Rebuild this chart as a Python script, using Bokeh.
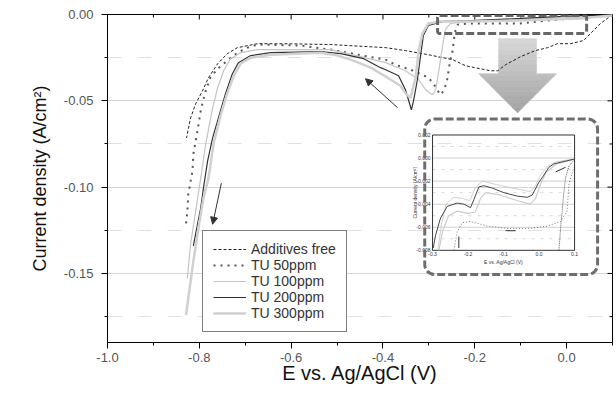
import math
from bokeh.plotting import figure
from bokeh.models import (Range1d, SingleIntervalTicker, NumeralTickFormatter,
                          Legend, LegendItem, Arrow, NormalHead, BoxAnnotation, Title)
from bokeh.embed import file_html
from bokeh.resources import INLINE
from bokeh.core.properties import value

# ---------------- main chart data (E in V, J in A/cm2) ----------------
af_E = [0.100, 0.074, 0.052, 0.037, 0.009, -0.020, -0.041, -0.068, -0.100, -0.133, -0.150, -0.166,
        -0.220, -0.248, -0.301, -0.351, -0.394, -0.514, -0.600, -0.673, -0.717, -0.739, -0.760,
        -0.780, -0.793, -0.808, -0.819, -0.828]
af_J = [0.000, -0.0052, -0.0110, -0.0151, -0.0169, -0.0169, -0.0192, -0.0209, -0.0244, -0.0291,
        -0.0326, -0.0326, -0.0297, -0.0262, -0.0233, -0.0209, -0.0192, -0.0174, -0.0170, -0.0169,
        -0.0192, -0.0227, -0.0285, -0.0366, -0.0442, -0.0517, -0.0599, -0.0715]

tu50_E = [0.100, 0.030, -0.040, -0.100, -0.166, -0.209, -0.237, -0.242, -0.246, -0.248,
          -0.253, -0.257, -0.259, -0.264, -0.270, -0.275, -0.290, -0.301, -0.333, -0.373,
          -0.394, -0.420, -0.470, -0.510, -0.580, -0.673, -0.695, -0.717, -0.739, -0.760,
          -0.776, -0.786, -0.793, -0.797, -0.804, -0.813, -0.815, -0.824, -0.826, -0.830]
tu50_J = [-0.0006, -0.0017, -0.0035, -0.0052, -0.0052, -0.0052, -0.0058, -0.0093, -0.0151, -0.0209,
          -0.0262, -0.0320, -0.0366, -0.0413, -0.0450, -0.0465, -0.0400, -0.0366, -0.0326, -0.0291,
          -0.0262, -0.0250, -0.0225, -0.0205, -0.0180, -0.0174, -0.0192, -0.0221, -0.0267, -0.0314,
          -0.0366, -0.0442, -0.0512, -0.0558, -0.0674, -0.0808, -0.0907, -0.1041, -0.1140, -0.1238]

tu100_E = [0.100, 0.030, -0.100, -0.209, -0.237, -0.253, -0.259, -0.264, -0.270, -0.279,
           -0.285, -0.292, -0.307, -0.322, -0.351, -0.394, -0.514, -0.673, -0.710, -0.732,
           -0.747, -0.760, -0.771, -0.786, -0.797, -0.808, -0.819, -0.826]
tu100_J = [0.000, -0.0017, -0.0029, -0.0040, -0.0047, -0.0052, -0.0070, -0.0087, -0.0180, -0.0337,
           -0.0436, -0.0465, -0.0436, -0.0378, -0.0326, -0.0279, -0.0203, -0.0203, -0.0221, -0.0256,
           -0.0326, -0.0424, -0.0541, -0.0750, -0.0948, -0.1140, -0.1331, -0.1529]

tu200_E = [0.100, 0.030, -0.100, -0.209, -0.268, -0.279, -0.301, -0.312, -0.318, -0.325,
           -0.333, -0.338, -0.351, -0.366, -0.394, -0.405, -0.442, -0.492, -0.536, -0.645,
           -0.688, -0.715, -0.728, -0.743, -0.754, -0.771, -0.782, -0.791, -0.797, -0.804, -0.813]
tu200_J = [-0.0002, -0.0006, -0.0023, -0.0035, -0.0040, -0.0047, -0.0064, -0.0122, -0.0238, -0.0378,
           -0.0494, -0.0552, -0.0436, -0.0355, -0.0320, -0.0308, -0.0256, -0.0227, -0.0215, -0.0221,
           -0.0238, -0.0279, -0.0343, -0.0459, -0.0558, -0.0715, -0.0849, -0.1006, -0.1122, -0.1215,
           -0.1340]

tu300_E = [0.100, 0.030, -0.100, -0.209, -0.275, -0.301, -0.314, -0.322, -0.329, -0.340,
           -0.350, -0.362, -0.390, -0.427, -0.464, -0.499, -0.536, -0.645, -0.688, -0.710,
           -0.725, -0.741, -0.754, -0.769, -0.780, -0.791, -0.802, -0.813, -0.829]
tu300_J = [-0.0006, -0.0023, -0.0035, -0.0040, -0.0040, -0.0052, -0.0110, -0.0209, -0.0366, -0.0483,
           -0.0460, -0.0413, -0.0366, -0.0308, -0.0267, -0.0238, -0.0221, -0.0233, -0.0250, -0.0285,
           -0.0355, -0.0471, -0.0587, -0.0750, -0.0948, -0.1064, -0.1238, -0.1430, -0.1740]

labels = ["Additives free", "TU 50ppm", "TU 100ppm", "TU 200ppm", "TU 300ppm"]

# scan-direction arrows (start E, start J, end E, end J)
arrow1 = (-0.368, -0.0540, -0.438, -0.0372)
arrow2 = (-0.752, -0.0977, -0.771, -0.1215)

# ---------------- inset data (zoom of the top right region) ----------------
in_dark_E = [-0.298, -0.2915, -0.2775, -0.2587, -0.2305, -0.2117, -0.193, -0.1836, -0.1695, -0.1554,
             -0.1319, -0.099, -0.0615, -0.0333, -0.0192, -0.0005, 0.0089, 0.0277, 0.0418, 0.098]
in_dark_J = [-0.0078, -0.0067, -0.0052, -0.0042, -0.0039, -0.0040, -0.0043, -0.0036, -0.0025, -0.0024,
             -0.0026, -0.0030, -0.0033, -0.0034, -0.0032, -0.0021, -0.0017, -0.0008, -0.0005, -0.0001]
in_100_E = [-0.285, -0.275, -0.262, -0.240, -0.215, -0.195, -0.180, -0.160, -0.120, -0.060,
            -0.025, -0.010, 0.005, 0.025, 0.050, 0.098]
in_100_J = [-0.0080, -0.0058, -0.0040, -0.0034, -0.0035, -0.0037, -0.0026, -0.0020, -0.0023, -0.0027,
            -0.0029, -0.0024, -0.0014, -0.0007, -0.0003, -0.0001]
in_300_E = [-0.282, -0.272, -0.255, -0.230, -0.200, -0.180, -0.165, -0.150, -0.110, -0.060,
            -0.025, -0.010, 0.005, 0.020, 0.050, 0.098]
in_300_J = [-0.0080, -0.0064, -0.0050, -0.0046, -0.0048, -0.0047, -0.0035, -0.0030, -0.0032, -0.0037,
            -0.0040, -0.0035, -0.0022, -0.0012, -0.0005, -0.0001]
in_50_E = [-0.240, -0.2305, -0.2164, -0.193, -0.146, -0.0897, -0.024, 0.023, 0.0606, 0.079, 0.084, 0.098]
in_50_J = [-0.0080, -0.0064, -0.0056, -0.0055, -0.0059, -0.0061, -0.0061, -0.0059, -0.0055, -0.0046,
           -0.0023, -0.0008]
in_af_E = [0.056, 0.0606, 0.065, 0.070, 0.0747, 0.084, 0.098]
in_af_J = [-0.0080, -0.0061, -0.0046, -0.0029, -0.0017, -0.0007, -0.0002]

in_yticks = [0.002, 0.000, -0.002, -0.004, -0.006, -0.008]
in_ylabels = ["0.002", "0.000", "-0.002", "-0.004", "-0.006", "-0.008"]
in_xticks = [-0.3, -0.2, -0.1, 0.0, 0.1]
in_xlabels = ["-0.3", "-0.2", "-0.1", "0.0", "0.1"]
in_arrows = [(-0.226, -0.0068, -0.226, -0.0078), (-0.066, -0.0063, -0.094, -0.0063),
             (0.0747, -0.0008, 0.0466, -0.0012)]

# ---------------- layout constants ----------------
X_MIN, X_MAX = -1.0, 0.1
Y_MIN, Y_MAX = -0.19, 0.0
FONT = "Liberation Sans"
Y_TITLE = "Current density (A/cm²)"
X_TITLE = "E vs. Ag/AgCl (V)"

INSET_X = (-0.3, 0.1)
INSET_Y = (-0.008, 0.002)
INSET_TARGET_X = (-0.292, 0.0174)
INSET_TARGET_Y = (-0.1366, -0.0698)
INSET_BOX = dict(left=-0.309, right=0.0675, top=-0.0605, bottom=-0.1506)
SMALL_BOX = dict(left=-0.281, right=0.0436, top=-0.0006, bottom=-0.0110)
SHAFT = (-0.1482, -0.0654, -0.01395)
HEAD = (-0.1917, -0.0218, -0.0343)
TIP = (-0.1068, -0.0570)
N_BANDS = 14

p = figure(frame_width=505, frame_height=328,
           x_range=Range1d(X_MIN, X_MAX), y_range=Range1d(Y_MIN, Y_MAX),
           output_backend="svg", toolbar_location=None,
           min_border_left=107, min_border_right=4, min_border_top=14, min_border_bottom=50,
           background_fill_color="white", border_fill_color="white")
p.outline_line_color = "black"
p.outline_line_width = 1

# axes
xt = SingleIntervalTicker(interval=0.2, num_minor_ticks=2)
yt = SingleIntervalTicker(interval=0.05, num_minor_ticks=2)
p.xaxis.ticker = xt
p.yaxis.ticker = yt
p.xaxis.formatter = NumeralTickFormatter(format="0.0")
p.yaxis.formatter = NumeralTickFormatter(format="0.00")
for ax in (p.xaxis[0], p.yaxis[0]):
    ax.axis_line_color = "black"
    ax.major_tick_line_color = "black"
    ax.minor_tick_line_color = "black"
    ax.major_tick_in = 0
    ax.minor_tick_in = 0
    ax.major_tick_out = 6
    ax.minor_tick_out = 3
    ax.major_label_text_font = FONT
    ax.major_label_text_font_size = "13px"
    ax.major_label_text_color = "#555555"
    ax.axis_label_text_font = FONT
    ax.axis_label_text_font_style = "normal"
    ax.axis_label_text_color = "#111111"
p.xaxis.axis_label = X_TITLE
p.xaxis.axis_label_text_font_size = "20px"
p.xaxis.major_label_standoff = 4
p.yaxis.major_label_standoff = 8
p.xaxis.axis_label_standoff = -3

# y title as a vertical title in the left panel
p.add_layout(Title(text=Y_TITLE, align="center", text_font=FONT, text_font_size="18px",
                   text_font_style="normal", text_color="#111111", standoff=22,
                   offset=-30), "left")

# mirror ticks (inward) on the top and right edges
top_major = [X_MIN + 0.2 * i for i in range(6)]
top_minor = [X_MIN + 0.1 + 0.2 * i for i in range(6)]
right_major = [Y_MAX - 0.05 * i for i in range(4)]
right_minor = [Y_MAX - 0.025 - 0.05 * i for i in range(4)]
p.ray(x=top_major, y=Y_MAX, length=5, length_units="screen", angle=-math.pi / 2,
      line_color="black", line_width=1)
p.ray(x=top_minor, y=Y_MAX, length=3, length_units="screen", angle=-math.pi / 2,
      line_color="black", line_width=1)
p.ray(x=X_MAX, y=right_major, length=5, length_units="screen", angle=math.pi,
      line_color="black", line_width=1)
p.ray(x=X_MAX, y=right_minor, length=3, length_units="screen", angle=math.pi,
      line_color="black", line_width=1)

# grid
p.xgrid.grid_line_color = None
p.ygrid.grid_line_color = "#d4d4d4"
p.ygrid.grid_line_width = 1.2
p.ygrid.minor_grid_line_color = "#e0e0e0"
p.ygrid.minor_grid_line_dash = "14 16"
p.ygrid.minor_grid_line_width = 1

# big gray block arrow with a vertical gradient (bands)
def shade(t):
    c = int(round(0xd6 + (0xa4 - 0xd6) * t))
    return "#%02x%02x%02x" % (c, c, c)

def half(j):
    if j >= HEAD[2]:
        return (SHAFT[1] - SHAFT[0]) / 2
    f = (j - TIP[1]) / (HEAD[2] - TIP[1])
    return (HEAD[1] - HEAD[0]) / 2 * f

total = SHAFT[2] - TIP[1]
bands_x, bands_y, bands_c = [], [], []
for i in range(N_BANDS):
    y0 = SHAFT[2] - total * i / N_BANDS
    y1 = SHAFT[2] - total * (i + 1) / N_BANDS
    ys = [y0]
    if y0 > HEAD[2] > y1:
        ys.append(HEAD[2] + 1e-9)
        ys.append(HEAD[2] - 1e-9)
    ys.append(y1)
    poly = [(TIP[0] - half(j), j) for j in ys] + [(TIP[0] + half(j), j) for j in reversed(ys)]
    bands_x.append([q[0] for q in poly])
    bands_y.append([q[1] for q in poly])
    bands_c.append(shade(i / (N_BANDS - 1)))
p.patches(bands_x, bands_y, fill_color=bands_c, line_color=bands_c, line_width=0.5)

# curves
r_af = p.line(af_E, af_J, line_color="#222222", line_width=1, line_dash="3 2")
r_50 = p.line(tu50_E, tu50_J, line_color="#555555", line_width=2, line_dash="2 5")
r_100 = p.line(tu100_E, tu100_J, line_color="#c4c4c4", line_width=1.2)
r_200 = p.line(tu200_E, tu200_J, line_color="#333333", line_width=1.2)
r_300 = p.line(tu300_E, tu300_J, line_color="#d0d0d0", line_width=2.5)

for a in (arrow1, arrow2):
    p.add_layout(Arrow(x_start=a[0], y_start=a[1], x_end=a[2], y_end=a[3],
                       line_color="#333333", line_width=1,
                       end=NormalHead(size=7, fill_color="#333333", line_color="#333333")))

p.add_layout(BoxAnnotation(**SMALL_BOX, fill_alpha=0, line_color="#666666", line_alpha=1,
                           line_width=3, line_dash="8 3", border_radius=2))
p.add_layout(BoxAnnotation(**INSET_BOX, fill_alpha=0, line_color="#6e6e6e", line_alpha=1,
                           line_width=3, line_dash="8 3", border_radius=10))

# ---------------- inset ----------------
ins = p.subplot(x_source=Range1d(*INSET_X), y_source=Range1d(*INSET_Y),
                x_target=Range1d(*INSET_TARGET_X), y_target=Range1d(*INSET_TARGET_Y))
grid_major = [t for t in in_yticks if INSET_Y[0] < t < INSET_Y[1]]
ins.multi_line(xs=[list(INSET_X)] * len(grid_major), ys=[[g, g] for g in grid_major],
               line_color="#d0d0d0", line_width=1)
grid_minor = [t - 0.001 for t in in_yticks[:-1]]
ins.multi_line(xs=[list(INSET_X)] * len(grid_minor), ys=[[g, g] for g in grid_minor],
               line_color="#d8d8d8", line_width=1, line_dash="3 6")
ins.line([INSET_X[0], INSET_X[1], INSET_X[1], INSET_X[0], INSET_X[0]],
         [INSET_Y[0], INSET_Y[0], INSET_Y[1], INSET_Y[1], INSET_Y[0]],
         line_color="black", line_width=0.8)
ins.line(in_af_E, in_af_J, line_color="#333333", line_width=0.8, line_dash="1 1")
ins.line(in_50_E, in_50_J, line_color="#555555", line_width=0.8, line_dash="1 2")
ins.line(in_100_E, in_100_J, line_color="#c4c4c4", line_width=0.8)
ins.line(in_300_E, in_300_J, line_color="#cccccc", line_width=1.2)
ins.line(in_dark_E, in_dark_J, line_color="#333333", line_width=0.9)
ins.segment(x0=[a[0] for a in in_arrows], y0=[a[1] for a in in_arrows],
            x1=[a[2] for a in in_arrows], y1=[a[3] for a in in_arrows],
            line_color="#333333", line_width=1)
ins.text(x=[INSET_X[0]] * len(in_yticks), y=in_yticks, text=in_ylabels,
         text_font=value(FONT), text_font_size="5px", text_align="right",
         text_baseline="middle", x_offset=-2, text_color="#333333")
ins.text(x=in_xticks, y=[INSET_Y[0]] * len(in_xticks), text=in_xlabels,
         text_font=value(FONT), text_font_size="5px", text_align="center",
         text_baseline="top", y_offset=2, text_color="#333333")
ins.text(x=[sum(INSET_X) / 2], y=[INSET_Y[0]], text=[X_TITLE],
         text_font=value(FONT), text_font_size="5px", text_align="center",
         text_baseline="top", y_offset=9, text_color="#333333")
ins.text(x=[INSET_X[0]], y=[sum(INSET_Y) / 2], text=[Y_TITLE],
         text_font=value(FONT), text_font_size="5px", text_align="center",
         text_baseline="bottom", x_offset=-15, angle=math.pi / 2, text_color="#333333")

# legend
legend = Legend(items=[LegendItem(label=l, renderers=[r]) for l, r in
                       zip(labels, [r_af, r_50, r_100, r_200, r_300])],
                location=(95, 10), orientation="vertical")
legend.label_text_font = FONT
legend.label_text_font_size = "14px"
legend.label_text_color = "#333333"
legend.glyph_width = 33
legend.glyph_height = 16
legend.label_height = 16
legend.label_standoff = 5
legend.spacing = 0
legend.padding = 10
legend.margin = 0
legend.border_line_color = "black"
legend.border_line_width = 1
legend.background_fill_alpha = 1
p.add_layout(legend, "center")

open("out.html", "w").write(file_html(p, INLINE))
